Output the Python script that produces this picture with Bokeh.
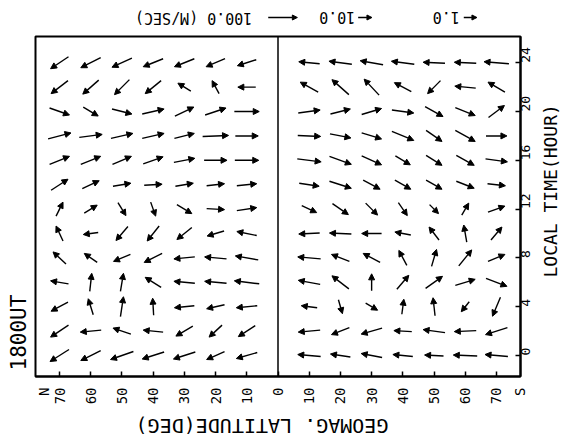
import numpy as np
from math import pi
from bokeh.plotting import figure
from bokeh.layouts import column, row
from bokeh.models import (ColumnDataSource, Arrow, NormalHead, Span, FixedTicker, Title,
                          Range1d)
from bokeh.core.properties import value
from bokeh.embed import file_html
from bokeh.resources import INLINE

# Local time rows (hours) and geomagnetic latitude columns (negative = North)
local_time = [24, 22, 20, 18, 16, 14, 12, 10, 8, 6, 4, 2, 0]
latitudes = [-70, -60, -50, -40, -30, -20, -10, 10, 20, 30, 40, 50, 60, 70]

# Plotted wind vector components (U: toward S / right, V: toward later LT / up),
# in plotted length units, one list per local-time row, 14 columns (70N..10N, 10S..70S)
U = [
    [-18, -20, -20, -20, -20, -19, -19, -21, -23, -23, -23, -22, -22, -25],
    [-17, -16, -15, -16, -13, -7, -18, -18, -17, -15, -17, -13, -21, -17],
    [20, 15, 20, 22, 19, 21, 25, 22, 20, 20, 22, 18, 20, 16],
    [23, 23, 22, 22, 20, 26, 23, 23, 21, 20, 22, 16, 20, 21],
    [20, 20, 19, 20, 21, 23, 24, 24, 22, 20, 15, 16, 18, 22],
    [17, 17, 18, 18, 18, 18, 20, 20, 22, 17, 16, 16, 18, 18],
    [7, 13, 8, 5, 15, 18, 20, 15, 16, 12, 9, 9, 7, 17],
    [-7, -15, -12, -12, -15, -17, -20, -21, -22, -20, -16, -10, -3, 11],
    [-13, -13, -17, -18, -21, -22, -23, -23, -18, -17, -8, 5, 13, 17],
    [-18, 2, 3, -16, -21, -22, -25, -22, -17, 0, 12, 17, 20, 21],
    [-17, -5, 3, -1, -20, -18, -21, -16, 4, 12, 2, -2, -8, -8],
    [-18, -21, -18, -20, -17, -13, -17, -22, -18, -21, -18, -22, -22, -22],
    [-19, -20, -23, -22, -22, -18, -21, -23, -20, -21, -20, -19, -24, -23],
]
V = [
    [-12, -10, -9, -8, -8, -8, -6, 2, 3, 4, 3, 1, 1, 2],
    [-13, -14, -15, -13, 8, 13, 0, 10, 15, 16, 9, -13, 2, 10],
    [-7, -9, -5, 5, 9, 7, 0, 3, 5, 6, -3, -10, -8, 12],
    [6, 3, 5, 5, 5, 1, 0, -1, -4, -6, -9, -11, -11, 0],
    [8, 8, 8, 7, 4, 0, 0, -3, -8, -9, -9, -10, -10, -3],
    [11, 8, 3, 1, 3, 2, 2, -3, -7, -9, -9, -9, -7, -2],
    [14, 8, -13, -14, -9, -1, 3, -7, -11, -12, -13, -9, 12, 6],
    [15, -2, -14, -15, -12, -5, 4, -1, 1, 0, 3, 13, 17, 13],
    [12, 9, -7, -9, -2, 2, 4, 2, 7, 9, 15, 17, 16, 7],
    [3, 18, 18, 10, 2, 2, 3, 4, 13, 17, 14, 12, 6, -8],
    [-9, 16, 20, 17, -2, -4, -2, 2, -14, -7, 15, 18, -10, -19],
    [-12, -2, 6, 2, -10, -12, -11, -2, -7, -6, 1, 3, -1, -7],
    [-12, -10, -8, -7, -7, -8, -6, 2, 3, 4, 2, 1, 1, 2],
]

lat_ticks = [-70, -60, -50, -40, -30, -20, -10, 0, 10, 20, 30, 40, 50, 60, 70]
lat_tick_labels = ["70", "60", "50", "40", "30", "20", "10", "0",
                   "10", "20", "30", "40", "50", "60", "70"]
hemi_ticks = [-75, 77.5]
hemi_labels = ["N", "S"]
lt_ticks = [0, 4, 8, 12, 16, 20, 24]

# speed-scale legend: labels, label centre (lat units), arrow start/end (lat units)
scale_values = ["1.0", "10.0", "100.0 (M/SEC)"]
scale_text_x = [54.0, 19.2, -26.6]
scale_arrow_x0 = [59.6, 25.9, -2.8]
scale_arrow_x1 = [63.8, 30.3, 6.5]

x_title = "GEOMAG. LATITUDE(DEG)"
y_title = "LOCAL TIME(HOUR)"
ut_title = "1800UT"

FONT = "DejaVu Sans Mono"
W = 562
TOP_H = 34
BOT_H = 37
MAIN_H = 445 - TOP_H - BOT_H
RS_W = 23
MAIN_W = W - RS_W
XR = Range1d(-77.7, 77.7)
YR = Range1d(-1.72, 26.15)
BL, BT, BB = 33, 2, 32
BR = MAIN_W - 520
fw = MAIN_W - BL - BR
fh = MAIN_H - BT - BB
sx = (XR.end - XR.start) / fw
sy = (YR.end - YR.start) / fh


def strip(width, height, xr, yr, bl=0, br=0, bt=0, bb=0):
    f = figure(width=width, height=height, x_range=xr, y_range=yr, output_backend="svg",
               toolbar_location=None, x_axis_location=None, y_axis_location=None,
               min_border_left=bl, min_border_right=br, min_border_top=bt, min_border_bottom=bb)
    f.outline_line_color = None
    f.xgrid.visible = False
    f.ygrid.visible = False
    f.background_fill_color = "white"
    f.border_fill_color = "white"
    return f


# ---- top strip with upside-down speed scale
top = strip(W, TOP_H, XR, (0, 1), bl=BL, br=W - 520)
ty = 0.5
top.text(x=scale_text_x, y=[ty] * 3, text=scale_values, angle=pi,
         text_font=value(FONT), text_font_size="15px", text_align="center",
         text_baseline="middle", text_color="black")
top.add_layout(Arrow(end=NormalHead(size=5, fill_color="black", line_color="black"),
                     source=ColumnDataSource(dict(x0=scale_arrow_x0, x1=scale_arrow_x1,
                                                  y=[ty] * 3)),
                     x_start="x0", y_start="y", x_end="x1", y_end="y",
                     line_color="black", line_width=1.4))

# ---- main vector plot
p = figure(width=MAIN_W, height=MAIN_H, x_range=XR, y_range=YR, output_backend="svg",
           toolbar_location=None, y_axis_location="right",
           min_border_left=BL, min_border_right=BR, min_border_top=BT, min_border_bottom=BB)
p.background_fill_color = "white"
p.border_fill_color = "white"
p.outline_line_color = "black"
p.outline_line_width = 2
p.xgrid.visible = False
p.ygrid.visible = False

xa = p.xaxis[0]
xa.ticker = FixedTicker(ticks=hemi_ticks[:1] + lat_ticks + hemi_ticks[1:], minor_ticks=lat_ticks)
ov = {t: s for t, s in zip(lat_ticks, lat_tick_labels)}
ov.update({t: s for t, s in zip(hemi_ticks, hemi_labels)})
xa.major_label_overrides = ov
xa.major_label_orientation = pi / 2
xa.major_tick_in = 0
xa.major_tick_out = 0
xa.minor_tick_in = 5
xa.minor_tick_out = 0
xa.minor_tick_line_color = "black"
xa.minor_tick_line_width = 1.5
xa.major_label_standoff = 11
xa.major_label_text_font = FONT
xa.major_label_text_font_size = "14px"
xa.major_label_text_color = "black"
xa.axis_line_width = 2

ya = p.yaxis[0]
ya.ticker = FixedTicker(ticks=lt_ticks)
ya.major_label_orientation = pi / 2
ya.major_tick_in = 5
ya.major_tick_out = 0
ya.major_tick_line_width = 1.5
ya.minor_tick_line_color = None
ya.major_label_standoff = 5
ya.major_label_text_font = FONT
ya.major_label_text_font_size = "13px"
ya.major_label_text_color = "black"
ya.axis_line_width = 2

p.add_layout(Title(text=ut_title, align="left", text_font=FONT, text_font_size="21px",
                   text_font_style="normal", text_color="black", standoff=9, offset=6), "left")

p.add_layout(Span(location=0, dimension="height", line_color="black", line_width=1.5))

# vectors, centred on grid points
xs0, ys0, xs1, ys1 = [], [], [], []
for i, lt in enumerate(local_time):
    for j, lat in enumerate(latitudes):
        dx = U[i][j] * sx
        dy = V[i][j] * sy
        xs0.append(lat - dx / 2); xs1.append(lat + dx / 2)
        ys0.append(lt - dy / 2); ys1.append(lt + dy / 2)
src = ColumnDataSource(dict(x0=xs0, y0=ys0, x1=xs1, y1=ys1))
p.add_layout(Arrow(end=NormalHead(size=6, fill_color="black", line_color="black", line_width=1),
                   x_start="x0", y_start="y0", x_end="x1", y_end="y1", source=src,
                   line_color="black", line_width=1.4))

# ---- right strip: local time title (reads bottom to top)
rs = strip(RS_W, MAIN_H, (0, RS_W), YR, bt=BT, bb=BB)
rs.text(x=[11.2], y=[13.5], text=[y_title], angle=pi / 2, text_font=value(FONT),
        text_font_size="18px", text_align="center", text_baseline="middle", text_color="black")

# ---- bottom strip: latitude title (upside down)
bs = strip(W, BOT_H, XR, (0, 1), bl=BL, br=W - 520)
bs.text(x=[-4.8], y=[0.52], text=[x_title], angle=pi, text_font=value(FONT),
        text_font_size="20px", text_align="center", text_baseline="middle", text_color="black")

layout = column(top, row(p, rs, spacing=0), bs, spacing=0)
open("out.html", "w").write(file_html(layout, INLINE))
